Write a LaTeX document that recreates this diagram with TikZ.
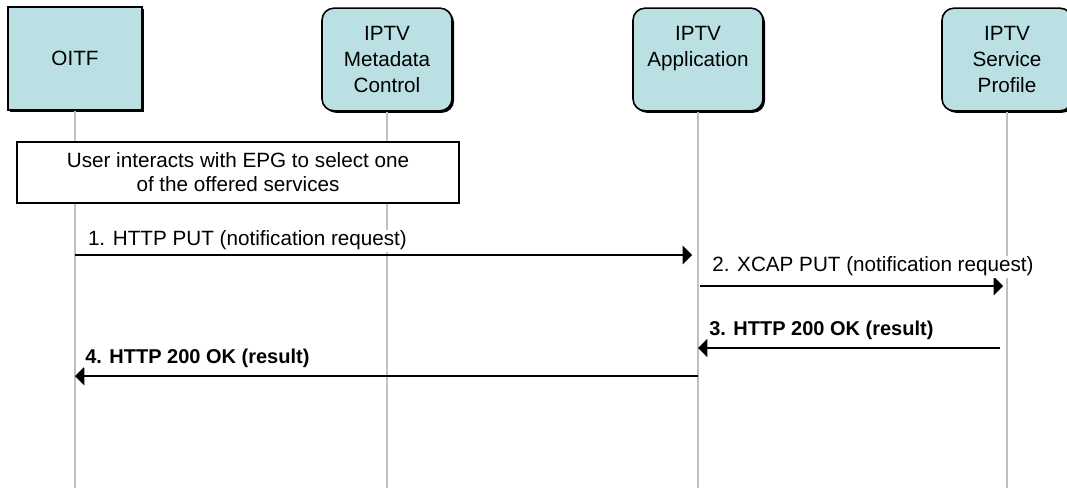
\documentclass[tikz,border=0pt]{standalone}
\usepackage{fontspec}
\setmainfont{Liberation Sans}
\usepackage{tikz}
\usetikzlibrary{arrows,shadows}

\definecolor{boxblue}{RGB}{187,224,228}
\definecolor{lifegray}{RGB}{192,192,192}

\tikzset{
  entity/.style={draw=black, line width=1.2pt, fill=boxblue, align=center,
    minimum width=97.5pt, minimum height=77pt, inner sep=0pt,
    font=\fontsize{15.5}{19.5}\selectfont,
    drop shadow={shadow xshift=1.5pt, shadow yshift=-1.5pt, fill=black, opacity=1}},
  roundentity/.style={entity, rounded corners=9pt},
  lifeline/.style={lifegray, line width=1.5pt},
  note/.style={draw=black, line width=1pt, fill=white, align=center,
    minimum width=331.5pt, minimum height=45.75pt, inner sep=0pt,
    font=\fontsize{15.5}{18}\selectfont,
    drop shadow={shadow xshift=1pt, shadow yshift=-1pt, fill=black, opacity=1}},
  msg/.style={->, black, line width=1.5pt},
  msglabel/.style={fill=white, inner sep=1pt, anchor=base west,
    font=\fontsize{15.5}{18}\selectfont},
  msgbold/.style={msglabel, font=\fontsize{15}{18}\selectfont\bfseries}
}

\begin{document}
\begin{tikzpicture}[x=0.75pt, y=-0.75pt, >=triangle 90]
\useasboundingbox (0,0) rectangle (1067,488);

% entities
\node [entity, minimum width=100.5pt] (oitf) at (75,58.5) {OITF};
\node [roundentity] (meta) at (387,59.5) {IPTV\\Metadata\\Control};
\node [roundentity] (app) at (698,59.5) {IPTV\\Application\\\phantom{Control}};
\node [roundentity] (prof) at (1007,59.5) {IPTV\\Service\\Profile};

% lifelines
\draw [lifeline] (oitf.south) -- (oitf.south |- 0,488);
\draw [lifeline] (meta.south) -- (meta.south |- 0,488);
\draw [lifeline] (app.south) -- (app.south |- 0,488);
\draw [lifeline] (prof.south) -- (prof.south |- 0,488);

\node [note] (epg) at (238,172.5) {User interacts with EPG to select one\\of the offered services};

% messages
\draw [msg, shorten >=4.5pt] (oitf |- 0,255) -- (app |- 0,255)
  node [msglabel, pos=0, xshift=8pt, yshift=6.75pt] (m1) {1. HTTP PUT (notification request)};
\draw [msg, shorten <=1.5pt, shorten >=3pt] (app |- 0,286) -- (prof |- 0,286)
  node [msglabel, pos=0, xshift=9pt, yshift=10.5pt] (m2) {2. XCAP PUT (notification request)};
\draw [msg, shorten <=5pt] (prof |- 0,348) -- (app |- 0,348)
  node [msgbold, pos=1, xshift=6.75pt, yshift=9.75pt] (m3) {3. HTTP 200 OK (result)};
\draw [msg] (app |- 0,376) -- (oitf |- 0,376)
  node [msgbold, pos=1, xshift=6pt, yshift=9.75pt] (m4) {4. HTTP 200 OK (result)};
\end{tikzpicture}
\end{document}
